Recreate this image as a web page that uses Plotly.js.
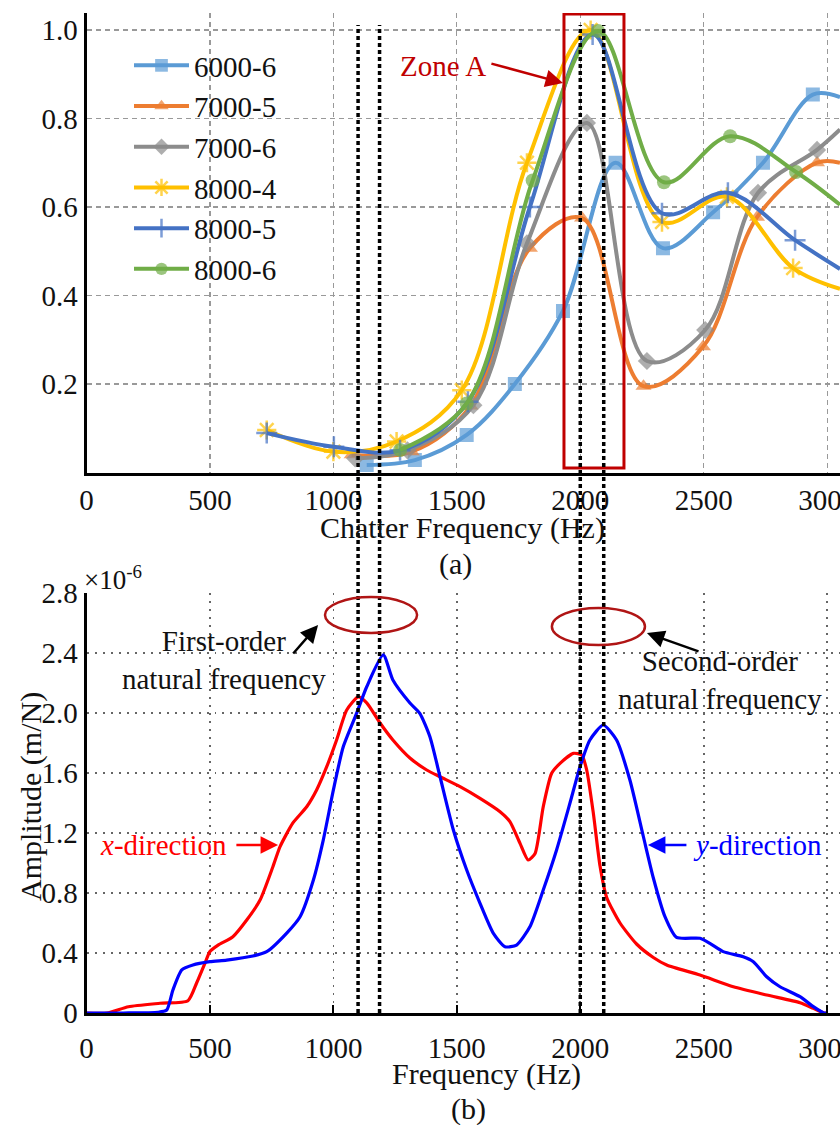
<!DOCTYPE html>
<html>
<head>
<meta charset="utf-8">
<script src="https://cdn.plot.ly/plotly-3.0.1.min.js"></script>
<style>
html,body{margin:0;padding:0;background:#fff;}
#chart{width:840px;height:1125px;}
</style>
</head>
<body>
<div id="chart"></div>
<script>
// ---------- (a) chatter frequency data ----------
const seriesNames = ['6000-6', '7000-5', '7000-6', '8000-4', '8000-5', '8000-6'];

const x6000_6 = [1135, 1330, 1540, 1735, 1930, 2143, 2335, 2538, 2740, 2942, 3052];
const y6000_6 = [0.017, 0.028, 0.085, 0.20, 0.365, 0.70, 0.507, 0.588, 0.70, 0.854, 0.848];

const x7000_5 = [1074, 1317, 1555, 1796, 2007, 2256, 2497, 2716, 2959, 3052];
const y7000_5 = [0.040, 0.047, 0.15, 0.507, 0.575, 0.195, 0.284, 0.577, 0.70, 0.70];

const x7000_6 = [1088, 1300, 1567, 1784, 2027, 2270, 2506, 2720, 2959, 3052];
const y7000_6 = [0.032, 0.05, 0.152, 0.518, 0.79, 0.252, 0.322, 0.632, 0.729, 0.775];

const x8000_4 = [730, 1000, 1256, 1520, 1784, 2042, 2331, 2594, 2862, 3052];
const y8000_4 = [0.096, 0.047, 0.07, 0.186, 0.70, 1.0, 0.566, 0.623, 0.462, 0.415];

const x8000_5 = [730, 1002, 1270, 1545, 1796, 2050, 2331, 2598, 2870, 3052];
const y8000_5 = [0.089, 0.058, 0.05, 0.16, 0.60, 0.99, 0.586, 0.632, 0.525, 0.46];

const x8000_6 = [1270, 1540, 1807, 2072, 2339, 2607, 2874, 3052];
const y8000_6 = [0.051, 0.156, 0.66, 0.998, 0.656, 0.76, 0.679, 0.605];

const xTickVals = [0, 500, 1000, 1500, 2000, 2500, 3000];
const xTickText = ['0', '500', '1000', '1500', '2000', '2500', '3000'];
const yTopTickVals = [0.2, 0.4, 0.6, 0.8, 1.0];
const yTopTickText = ['0.2', '0.4', '0.6', '0.8', '1.0'];

// ---------- (b) FRF amplitude data (x10^-6 m/N) ----------
const xDirFreq = [0, 83, 170, 298, 411, 446, 480, 500, 533, 593, 649, 703, 755, 784, 836, 892, 932, 973, 1013, 1054, 1101, 1135, 1189, 1241, 1310, 1378, 1432, 1513, 1594, 1675, 1715, 1756, 1789, 1817, 1850, 1884, 1918, 1972, 2006, 2026, 2053, 2080, 2107, 2161, 2228, 2296, 2350, 2485, 2620, 2755, 2890, 2944, 2987, 3000];
const xDirAmp  = [0, 0, 0.042, 0.065, 0.082, 0.20, 0.333, 0.41, 0.453, 0.509, 0.62, 0.753, 0.975, 1.109, 1.267, 1.375, 1.487, 1.642, 1.82, 2.02, 2.107, 2.067, 1.933, 1.82, 1.70, 1.62, 1.575, 1.509, 1.431, 1.342, 1.276, 1.131, 1.02, 1.064, 1.375, 1.598, 1.664, 1.731, 1.72, 1.62, 1.331, 0.98, 0.77, 0.60, 0.46, 0.37, 0.32, 0.253, 0.175, 0.12, 0.069, 0.031, 0, 0];

const yDirFreq = [0, 150, 290, 325, 350, 386, 431, 500, 568, 674, 730, 811, 865, 919, 959, 1000, 1040, 1094, 1135, 1202, 1241, 1310, 1350, 1391, 1432, 1486, 1540, 1594, 1648, 1695, 1742, 1796, 1850, 1904, 1958, 1999, 2039, 2093, 2147, 2201, 2255, 2296, 2343, 2390, 2485, 2525, 2579, 2660, 2701, 2755, 2809, 2890, 2944, 2987, 3000];
const yDirAmp  = [0, 0, 0.005, 0.02, 0.153, 0.287, 0.32, 0.342, 0.353, 0.38, 0.409, 0.533, 0.642, 0.887, 1.153, 1.487, 1.775, 1.998, 2.175, 2.387, 2.22, 2.067, 1.998, 1.842, 1.575, 1.22, 0.953, 0.731, 0.531, 0.442, 0.453, 0.575, 0.82, 1.087, 1.398, 1.642, 1.82, 1.92, 1.82, 1.553, 1.18, 0.9, 0.642, 0.504, 0.498, 0.464, 0.409, 0.375, 0.342, 0.242, 0.175, 0.109, 0.042, 0, 0];

const yBotTickVals = [0, 0.4, 0.8, 1.2, 1.6, 2.0, 2.4, 2.8];
const yBotTickText = ['0', '0.4', '0.8', '1.2', '1.6', '2.0', '2.4', '2.8'];

const naturalFreqs = [1100, 1187, 2000, 2095];

// ---------- styling ----------
const FONT = "'Liberation Serif', 'Times New Roman', serif";
const XMAX = 3052;
const W = 840, H = 1125;
const px = v => v / W;          // paper x from pixel
const py = v => 1 - v / H;      // paper y from pixel

const colors = ['#5B9BD5', '#ED7D31', '#8C8C8C', '#FFC000', '#4472C4', '#70AD47'];
const symbols = ['square', 'triangle-up', 'diamond', 'asterisk-open', 'cross-thin-open', 'circle'];
const msizes = [14, 14, 14, 16, 15, 14];
const xs = [x6000_6, x7000_5, x7000_6, x8000_4, x8000_5, x8000_6];
const ys = [y6000_6, y7000_5, y7000_6, y8000_4, y8000_5, y8000_6];

const traces = seriesNames.map((name, i) => ({
  type: 'scatter', mode: 'lines+markers', name: name,
  x: xs[i], y: ys[i], xaxis: 'x', yaxis: 'y',
  line: {color: colors[i], width: 4, shape: 'spline', smoothing: 1},
  marker: {
    symbol: symbols[i], color: colors[i],
    size: xs[i].map(v => v > 3040 ? 0 : msizes[i]),
    line: {color: colors[i], width: (symbols[i].indexOf('open') >= 0) ? 2.5 : 0}
  }
}));

traces.push({
  type: 'scatter', mode: 'lines', name: 'x-direction', showlegend: false,
  x: xDirFreq, y: xDirAmp, xaxis: 'x2', yaxis: 'y2',
  line: {color: '#FF0000', width: 3.2, shape: 'spline', smoothing: 0.6}
});
traces.push({
  type: 'scatter', mode: 'lines', name: 'y-direction', showlegend: false,
  x: yDirFreq, y: yDirAmp, xaxis: 'x2', yaxis: 'y2',
  line: {color: '#0000FF', width: 3.2, shape: 'spline', smoothing: 0.6}
});

const tickFont = {family: FONT, size: 29, color: '#111'};

const shapes = [];
// Zone A
shapes.push({type: 'rect', xref: 'x', yref: 'y', x0: 1934, x1: 2177, y0: 0.01, y1: 1.036,
  line: {color: '#C00000', width: 3}, layer: 'above'});
// natural frequency dotted lines spanning both panels
naturalFreqs.forEach(f => shapes.push({type: 'line', xref: 'x', yref: 'paper',
  x0: f, x1: f, y0: py(1013), y1: py(25),
  line: {color: '#000', width: 3.5, dash: '4px,3px'}, layer: 'above'}));
// ellipses
shapes.push({type: 'circle', xref: 'x2', yref: 'y2', x0: 966, x1: 1339, y0: 2.533, y1: 2.773,
  line: {color: '#B01515', width: 2.5}});
shapes.push({type: 'circle', xref: 'x2', yref: 'y2', x0: 1885, x1: 2262, y0: 2.453, y1: 2.70,
  line: {color: '#B01515', width: 2.5}});

const arrow = (xref, yref, tx, ty, hx, hy, color) => ({
  xref: xref, yref: yref, axref: xref, ayref: yref,
  x: hx, y: hy, ax: tx, ay: ty, text: '', showarrow: true,
  arrowhead: 2, arrowsize: 1.4, arrowwidth: 2.5, arrowcolor: color
});

const txt = (xref, yref, x, y, text, size, color, extra) => Object.assign({
  xref: xref, yref: yref, x: x, y: y, text: text, showarrow: false,
  xanchor: 'center', yanchor: 'middle',
  font: {family: FONT, size: size, color: color}
}, extra || {});

const annotations = [
  txt('x', 'y', 1444, 0.919, 'Zone A', 29, '#C00000'),
  arrow('x', 'y', 1634, 0.925, 1930, 0.88, '#C00000'),
  txt('x2', 'y2', 557, 2.353, 'First-order<br>natural frequency', 29, '#111'),
  arrow('x2', 'y2', 832, 2.387, 938, 2.587, '#000'),
  txt('x2', 'y2', 2566, 2.22, 'Second-order<br>natural frequency', 29, '#111'),
  arrow('x2', 'y2', 2485, 2.407, 2270, 2.533, '#000'),
  txt('x2', 'y2', 310, 1.12, '<i>x</i>-direction', 29, '#FF0000'),
  arrow('x2', 'y2', 601, 1.12, 776, 1.12, '#FF0000'),
  txt('x2', 'y2', 2716, 1.12, '<i>y</i>-direction', 29, '#0000FF'),
  arrow('x2', 'y2', 2436, 1.12, 2274, 1.12, '#0000FF'),
  txt('paper', 'paper', px(462.5), py(528), 'Chatter Frequency (Hz)', 30, '#111'),
  txt('paper', 'paper', px(456), py(564), '(a)', 30, '#111'),
  txt('paper', 'paper', px(486), py(1074), 'Frequency (Hz)', 30, '#111'),
  txt('paper', 'paper', px(468), py(1109), '(b)', 30, '#111'),
  txt('paper', 'paper', px(31), py(797), 'Amplitude (m/N)', 30, '#111', {textangle: -90}),
  txt('paper', 'paper', px(82), py(578), '×10<sup>-6</sup>', 27, '#111', {xanchor: 'left'})
];

const axisCommon = {
  tickfont: tickFont, zeroline: false, automargin: false,
  showline: true, linecolor: '#000', linewidth: 3, showgrid: true,
  ticklabeloverflow: 'allow'
};

const layout = {
  width: W, height: H,
  margin: {l: 0, r: 0, t: 0, b: 0},
  paper_bgcolor: '#fff', plot_bgcolor: '#fff',
  font: {family: FONT, size: 29, color: '#111'},
  showlegend: true,
  legend: {x: px(129), y: py(40), xanchor: 'left', yanchor: 'top',
    bgcolor: 'rgba(255,255,255,0)', borderwidth: 0, itemwidth: 55,
    font: {family: FONT, size: 29, color: '#111'}, tracegroupgap: 0},
  xaxis: Object.assign({}, axisCommon, {domain: [px(86.5), 1], range: [0, XMAX], anchor: 'y',
    tickvals: xTickVals, ticktext: xTickText, ticks: '',
    gridcolor: '#999', griddash: '5px,4px', gridwidth: 1.2}),
  yaxis: Object.assign({}, axisCommon, {domain: [py(472.5), py(13)], range: [0, 1.0384], anchor: 'x',
    tickvals: yTopTickVals, ticktext: yTopTickText, ticks: '',
    gridcolor: '#999', griddash: '5px,4px', gridwidth: 1.2}),
  xaxis2: Object.assign({}, axisCommon, {domain: [px(86.5), 1], range: [0, XMAX], anchor: 'y2',
    tickvals: xTickVals, ticktext: xTickText,
    ticks: 'inside', ticklen: 8, tickwidth: 2, tickcolor: '#000', ticklabelstandoff: 7,
    gridcolor: '#666', griddash: '2px,6px', gridwidth: 1.6}),
  yaxis2: Object.assign({}, axisCommon, {domain: [py(1013), py(593)], range: [0, 2.8], anchor: 'x2',
    tickvals: yBotTickVals, ticktext: yBotTickText, ticks: '',
    gridcolor: '#666', griddash: '2px,6px', gridwidth: 1.6}),
  shapes: shapes,
  annotations: annotations
};

Plotly.newPlot('chart', traces, layout, {displayModeBar: false, staticPlot: true});
</script>
</body>
</html>
